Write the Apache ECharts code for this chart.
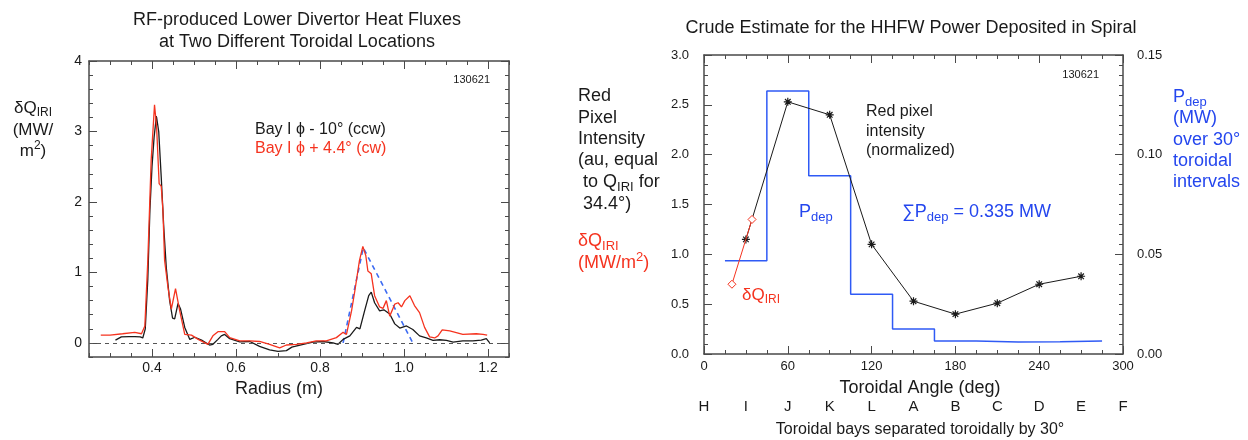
<!DOCTYPE html>
<html>
<head>
<meta charset="utf-8">
<script src="https://cdn.jsdelivr.net/npm/echarts@6/dist/echarts.min.js"></script>
<style>
  html, body { margin: 0; padding: 0; background: #fff; }
  #main { width: 1248px; height: 440px; }
</style>
</head>
<body>
<div id="main"></div>
<script>
// left panel: heat flux vs radius
var blackRadius = [0.313, 0.327, 0.345, 0.359, 0.372, 0.378, 0.384, 0.390, 0.395, 0.400, 0.405, 0.4105, 0.416, 0.422, 0.428, 0.434, 0.442, 0.449, 0.454, 0.458, 0.462, 0.468, 0.478, 0.490, 0.502, 0.518, 0.537, 0.545, 0.557, 0.565, 0.573, 0.585, 0.609, 0.633, 0.656, 0.680, 0.700, 0.720, 0.733, 0.740, 0.760, 0.783, 0.807, 0.831, 0.843, 0.855, 0.871, 0.887, 0.895, 0.906, 0.916, 0.922, 0.930, 0.942, 0.952, 0.966, 0.978, 0.990, 1.006, 1.021, 1.037, 1.053, 1.069, 1.085, 1.101, 1.117, 1.140, 1.164, 1.184, 1.196, 1.204];
var blackFlux = [0.04, 0.085, 0.09, 0.09, 0.085, 0.07, 0.20, 0.90, 1.88, 2.50, 2.92, 3.22, 3.00, 2.35, 1.64, 1.07, 0.60, 0.35, 0.34, 0.45, 0.56, 0.48, 0.22, 0.05, 0.08, 0.04, -0.03, -0.02, 0.05, 0.10, 0.12, 0.06, 0.015, 0.02, -0.05, -0.10, -0.12, -0.11, -0.06, -0.05, -0.02, 0.01, 0.02, 0.00, -0.02, 0.05, 0.10, 0.22, 0.20, 0.45, 0.67, 0.72, 0.57, 0.455, 0.47, 0.41, 0.27, 0.21, 0.24, 0.19, 0.10, 0.07, 0.035, 0.045, 0.035, 0.01, 0.03, 0.03, 0.04, 0.06, 0.00];
var redRadius = [0.278, 0.300, 0.330, 0.359, 0.375, 0.383, 0.390, 0.398, 0.406, 0.411, 0.417, 0.422, 0.426, 0.430, 0.438, 0.446, 0.456, 0.466, 0.478, 0.494, 0.510, 0.533, 0.545, 0.557, 0.573, 0.585, 0.609, 0.633, 0.656, 0.680, 0.704, 0.720, 0.744, 0.768, 0.791, 0.815, 0.839, 0.855, 0.863, 0.875, 0.883, 0.894, 0.902, 0.909, 0.914, 0.922, 0.930, 0.942, 0.950, 0.958, 0.966, 0.978, 0.986, 0.994, 1.002, 1.014, 1.025, 1.037, 1.049, 1.061, 1.073, 1.081, 1.091, 1.109, 1.140, 1.172, 1.188, 1.198];
var redFlux = [0.11, 0.11, 0.13, 0.15, 0.13, 0.24, 1.17, 2.59, 3.38, 3.06, 2.26, 2.22, 1.88, 1.17, 0.79, 0.48, 0.77, 0.455, 0.12, 0.11, 0.05, -0.02, 0.10, 0.16, 0.16, 0.075, 0.03, 0.03, 0.02, -0.02, -0.07, -0.03, -0.02, 0.00, 0.03, 0.03, 0.075, 0.15, 0.12, 0.45, 0.74, 1.17, 1.37, 1.24, 1.02, 0.98, 0.67, 0.51, 0.49, 0.60, 0.38, 0.55, 0.57, 0.51, 0.60, 0.67, 0.53, 0.43, 0.22, 0.085, 0.07, 0.10, 0.185, 0.17, 0.12, 0.13, 0.12, 0.11];
var fitRadius = [0.855, 0.903, 1.021];
var fitFlux = [0, 1.35, 0];
var radiusTicks = [0.4, 0.6, 0.8, 1.0, 1.2];
var fluxTicks = [0, 1, 2, 3, 4];

// right panel: deposited power vs toroidal angle
var pixelAngle = [30, 60, 90, 120, 150, 180, 210, 240, 270];
var pixelIntensity = [1.15, 2.53, 2.40, 1.10, 0.53, 0.40, 0.51, 0.70, 0.78];
var irAngle = [20, 34.4];
var irFlux = [0.70, 1.35];
var pdepEdges = [15, 45, 75, 105, 135, 165, 195, 225, 255, 285];
var pdepPower = [0.0468, 0.132, 0.0894, 0.030, 0.0125, 0.0065, 0.0060, 0.0062, 0.0065];
var bayLetters = ['H', 'I', 'J', 'K', 'L', 'A', 'B', 'C', 'D', 'E', 'F'];

var FONT = '"Liberation Sans", Arial, sans-serif';
var frameColor = '#4a4a4a';
var ink = '#1a1a1a';
var red = '#f5331f';
var blue = '#2446ee';
var asterisk = 'path://M5 0L5 10M0 5L10 5M1.5 1.5L8.5 8.5M8.5 1.5L1.5 8.5';

function zip(a, b) {
  return a.map(function(v, i) { return [v, b[i]]; });
}

function txt(x, y, text, size, color, align) {
  var s = Math.round(size * 0.72);
  return {
    type: 'text', x: x, y: y, silent: true,
    style: {
      text: text, fontSize: size, fontFamily: FONT, fill: color,
      align: align || 'left', verticalAlign: 'middle',
      rich: {
        s: { fontSize: s, fontFamily: FONT, padding: [Math.round(size * 0.6), 0, 0, 0] },
        p: { fontSize: s, fontFamily: FONT, padding: [0, 0, Math.round(size * 0.6), 0] }
      }
    }
  };
}

function tickStyle(len) {
  return { show: true, inside: true, length: len, lineStyle: { color: frameColor, width: 1 } };
}
var minorStyle = function(n) {
  return { show: true, splitNumber: n, length: 4, lineStyle: { color: frameColor, width: 1 } };
};
var lineOn = { show: true, onZero: false, lineStyle: { color: frameColor, width: 1.5 } };
var lineOff = { show: false, onZero: false };
var labelFont = { fontFamily: FONT, color: ink };

function init() {
  var chart = echarts.init(document.getElementById('main'));

  var pdepData = pdepEdges.map(function(e, i) {
    return [e, pdepPower[Math.min(i, pdepPower.length - 1)]];
  });

  var option = {
    animation: false,
    backgroundColor: '#fff',
    grid: [
      { left: 89, top: 61, width: 420, height: 296 },
      { left: 704, top: 55, width: 419, height: 299 }
    ],
    xAxis: [
      { gridIndex: 0, type: 'value', position: 'bottom', min: 0.25, max: 1.25,
        axisLine: lineOn, splitLine: { show: false },
        axisTick: Object.assign(tickStyle(8), { customValues: radiusTicks }),
        axisLabel: Object.assign({ customValues: radiusTicks, margin: 4, fontSize: 14,
          formatter: function(v) { return v.toFixed(1); } }, labelFont) },
      { gridIndex: 0, type: 'value', position: 'bottom', min: 0.25, max: 1.25, interval: 0.05,
        axisLine: lineOff, splitLine: { show: false }, axisTick: tickStyle(4), axisLabel: { show: false } },
      { gridIndex: 0, type: 'value', position: 'top', min: 0.25, max: 1.25,
        axisLine: lineOn, splitLine: { show: false },
        axisTick: Object.assign(tickStyle(8), { customValues: radiusTicks }), axisLabel: { show: false } },
      { gridIndex: 0, type: 'value', position: 'top', min: 0.25, max: 1.25, interval: 0.05,
        axisLine: lineOff, splitLine: { show: false }, axisTick: tickStyle(4), axisLabel: { show: false } },
      { gridIndex: 1, type: 'value', position: 'bottom', min: 0, max: 300, interval: 60,
        axisLine: lineOn, splitLine: { show: false }, axisTick: tickStyle(8), minorTick: minorStyle(4),
        axisLabel: Object.assign({ margin: 6, fontSize: 13 }, labelFont) },
      { gridIndex: 1, type: 'value', position: 'top', min: 0, max: 300, interval: 60,
        axisLine: lineOn, splitLine: { show: false }, axisTick: tickStyle(8), minorTick: minorStyle(4),
        axisLabel: { show: false } },
      { gridIndex: 1, type: 'value', position: 'bottom', offset: 40, min: 0, max: 300, interval: 30,
        axisLine: lineOff, splitLine: { show: false }, axisTick: { show: false },
        axisLabel: Object.assign({ margin: 5, fontSize: 15,
          formatter: function(v) { return bayLetters[Math.round(v / 30)]; } }, labelFont) }
    ],
    yAxis: [
      { gridIndex: 0, type: 'value', position: 'left', min: -0.2, max: 4,
        axisLine: lineOn, splitLine: { show: false },
        axisTick: Object.assign(tickStyle(8), { customValues: fluxTicks }),
        axisLabel: Object.assign({ customValues: fluxTicks, margin: 7, fontSize: 14 }, labelFont) },
      { gridIndex: 0, type: 'value', position: 'left', min: -0.2, max: 4, interval: 0.2,
        axisLine: lineOff, splitLine: { show: false }, axisTick: tickStyle(4), axisLabel: { show: false } },
      { gridIndex: 0, type: 'value', position: 'right', min: -0.2, max: 4,
        axisLine: lineOn, splitLine: { show: false },
        axisTick: Object.assign(tickStyle(8), { customValues: fluxTicks }), axisLabel: { show: false } },
      { gridIndex: 0, type: 'value', position: 'right', min: -0.2, max: 4, interval: 0.2,
        axisLine: lineOff, splitLine: { show: false }, axisTick: tickStyle(4), axisLabel: { show: false } },
      { gridIndex: 1, type: 'value', position: 'left', min: 0, max: 3, interval: 0.5,
        axisLine: lineOn, splitLine: { show: false }, axisTick: tickStyle(8), minorTick: minorStyle(5),
        axisLabel: Object.assign({ margin: 15, fontSize: 13,
          formatter: function(v) { return v.toFixed(1); } }, labelFont) },
      { gridIndex: 1, type: 'value', position: 'right', min: 0, max: 0.15, interval: 0.05,
        axisLine: lineOn, splitLine: { show: false }, axisTick: tickStyle(8), minorTick: minorStyle(10),
        axisLabel: Object.assign({ margin: 14, fontSize: 13,
          formatter: function(v) { return v.toFixed(2); } }, labelFont) }
    ],
    series: [
      { name: 'fit', type: 'line', xAxisIndex: 0, yAxisIndex: 0, data: zip(fitRadius, fitFlux),
        showSymbol: false, lineStyle: { color: '#3d6bf2', width: 1.6, type: [5, 4] }, z: 3 },
      { name: 'ccw', type: 'line', xAxisIndex: 0, yAxisIndex: 0, data: zip(blackRadius, blackFlux),
        showSymbol: false, lineStyle: { color: ink, width: 1.3 }, z: 4,
        markLine: { silent: true, symbol: 'none', label: { show: false },
          lineStyle: { color: '#555', width: 1, type: [4, 4] }, data: [{ yAxis: 0 }] } },
      { name: 'cw', type: 'line', xAxisIndex: 0, yAxisIndex: 0, data: zip(redRadius, redFlux),
        showSymbol: false, lineStyle: { color: red, width: 1.3 }, z: 5 },
      { name: 'pdep', type: 'line', xAxisIndex: 4, yAxisIndex: 5, data: pdepData, step: 'end',
        showSymbol: false, lineStyle: { color: '#2f5af5', width: 1.5 }, z: 3 },
      { name: 'pixel', type: 'line', xAxisIndex: 4, yAxisIndex: 4, data: zip(pixelAngle, pixelIntensity),
        symbol: asterisk, symbolSize: 8, lineStyle: { color: ink, width: 1 },
        itemStyle: { color: ink, borderColor: ink, borderWidth: 1.2 }, z: 5 },
      { name: 'dq', type: 'line', xAxisIndex: 4, yAxisIndex: 4, data: zip(irAngle, irFlux),
        symbol: 'diamond', symbolSize: 8, lineStyle: { color: red, width: 1 },
        itemStyle: { color: '#fff', borderColor: red, borderWidth: 1 }, z: 6 }
    ],
    graphic: [
      txt(297, 20, 'RF-produced Lower Divertor Heat Fluxes', 18, ink, 'center'),
      txt(297, 42, 'at Two Different Toroidal Locations', 18, ink, 'center'),
      txt(490, 80, '130621', 11, ink, 'right'),
      txt(255, 130, 'Bay I \u03d5 - 10\u00b0 (ccw)', 16, ink),
      txt(255, 149, 'Bay I \u03d5 + 4.4\u00b0 (cw)', 16, red),
      txt(33, 108, '\u03b4Q{s|IRI}', 17, ink, 'center'),
      txt(33, 130, '(MW/', 17, ink, 'center'),
      txt(33, 151, 'm{p|2})', 17, ink, 'center'),
      txt(279, 389, 'Radius (m)', 18, ink, 'center'),

      txt(911, 28, 'Crude Estimate for the HHFW Power Deposited in Spiral', 18, ink, 'center'),
      txt(1099, 75, '130621', 11, ink, 'right'),
      txt(578, 96, 'Red', 18, ink),
      txt(578, 118, 'Pixel', 18, ink),
      txt(578, 139, 'Intensity', 18, ink),
      txt(578, 160, '(au, equal', 18, ink),
      txt(578, 182, ' to Q{s|IRI} for', 18, ink),
      txt(578, 204, ' 34.4\u00b0)', 18, ink),
      txt(578, 241, '\u03b4Q{s|IRI}', 18, red),
      txt(578, 263, '(MW/m{p|2})', 18, red),
      txt(1173, 97, 'P{s|dep}', 18, blue),
      txt(1173, 118, '(MW)', 18, blue),
      txt(1173, 140, 'over 30\u00b0', 18, blue),
      txt(1173, 161, 'toroidal', 18, blue),
      txt(1173, 182, 'intervals', 18, blue),
      txt(866, 112, 'Red pixel', 16, ink),
      txt(866, 132, 'intensity', 16, ink),
      txt(866, 151, '(normalized)', 16, ink),
      txt(799, 212, 'P{s|dep}', 18, blue),
      txt(902, 212, '\u2211P{s|dep} = 0.335 MW', 18, blue),
      txt(742, 295, '\u03b4Q{s|IRI}', 17, red),
      txt(920, 388, 'Toroidal Angle (deg)', 18, ink, 'center'),
      txt(920, 430, 'Toroidal bays separated toroidally by 30\u00b0', 16, ink, 'center')
    ]
  };
  chart.setOption(option);
}
init();
</script>
</body>
</html>
